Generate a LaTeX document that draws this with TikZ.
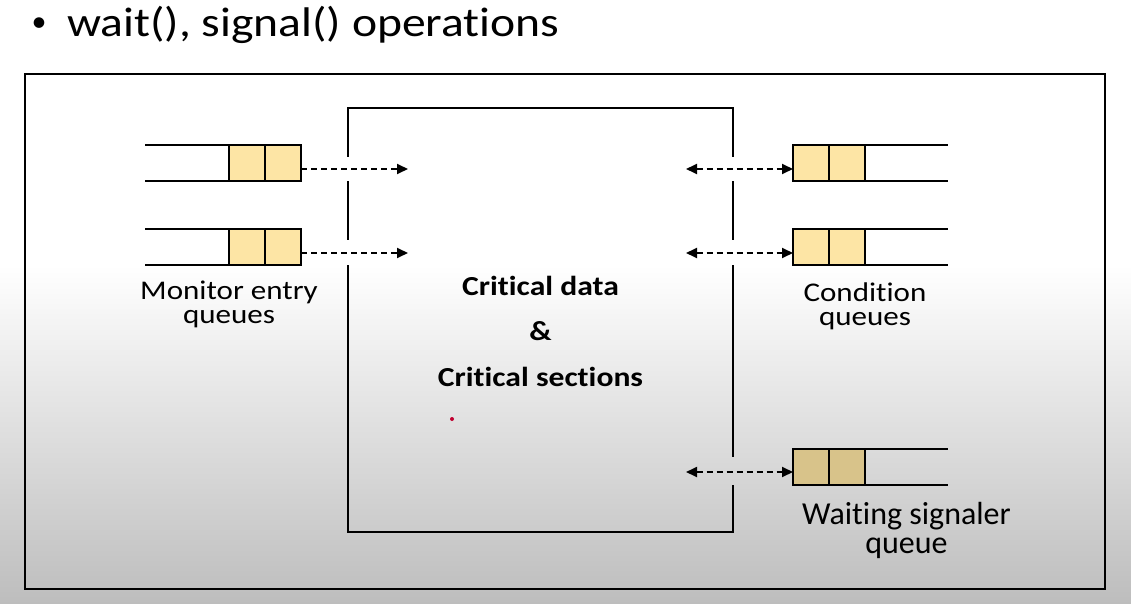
\documentclass[tikz,border=0pt]{standalone}
\usepackage{fontspec}
\setmainfont{Carlito}[FakeStretch=1.15, Ligatures={NoCommon}]
\newfontfamily\plainfont{Carlito}[Ligatures={NoCommon}]
\usetikzlibrary{arrows.meta}
\definecolor{cellyel}{HTML}{FDE5A5}
\definecolor{celltan}{HTML}{D8C38A}
\definecolor{bggray}{HTML}{BDBDBD}
\definecolor{dotred}{HTML}{C00030}
\begin{document}
\begin{tikzpicture}[x=1pt,y=-1pt,
  qline/.style={line width=2pt},
  boxline/.style={line width=2pt},
  cell/.style={draw, line width=2pt, minimum width=36pt, minimum height=36pt, inner sep=0pt, outer sep=0pt, fill=cellyel},
  darkcell/.style={cell, fill=celltan},
  flow/.style={line width=1.8pt, dash pattern=on 6pt off 4pt, -{Triangle[length=11pt,width=10pt]}},
  bflow/.style={line width=1.8pt, dash pattern=on 6pt off 4pt, {Triangle[length=11pt,width=10pt]}-{Triangle[length=11pt,width=10pt]}},
  lbl/.style={anchor=base, inner sep=0pt, align=center},
]
\useasboundingbox (0,0) rectangle (1131,604);
\fill[white] (0,0) rectangle (1131,265);
\shade[top color=white, bottom color=bggray] (0,265) rectangle (1131,604);

% title
\node[lbl] (bul) at (39,32) {\plainfont\fontsize{30}{36}\selectfont •};
\node[lbl, anchor=base west] (title) at (67,37) {\fontsize{41.4}{48}\selectfont wait(), signal() operations};

% outer box
\draw[boxline] (25,74) rectangle (1105,589);

% central box with gaps
\draw[boxline] (348,157) -- (348,108) -- (733,108) -- (733,157);
\draw[boxline] (348,181) -- (348,240);
\draw[boxline] (348,265) -- (348,532) -- (733,532) -- (733,485);
\draw[boxline] (733,181) -- (733,240);
\draw[boxline] (733,265) -- (733,457);

% left queues
\node[cell] (l1a) at (247,163) {};
\node[cell] (l1b) at (283,163) {};
\node[cell] (l2a) at (247,247) {};
\node[cell] (l2b) at (283,247) {};
\draw[qline] (l1a.north west) -- ++(-84,0);
\draw[qline] (l1a.south west) -- ++(-84,0);
\draw[qline] (l2a.north west) -- ++(-84,0);
\draw[qline] (l2a.south west) -- ++(-84,0);

% right queues
\node[cell] (r1a) at (811,163) {};
\node[cell] (r1b) at (847,163) {};
\node[cell] (r2a) at (811,247) {};
\node[cell] (r2b) at (847,247) {};
\node[darkcell] (r3a) at (811,467) {};
\node[darkcell] (r3b) at (847,467) {};
\draw[qline] (r1b.north east) -- ++(83,0);
\draw[qline] (r1b.south east) -- ++(83,0);
\draw[qline] (r2b.north east) -- ++(83,0);
\draw[qline] (r2b.south east) -- ++(83,0);
\draw[qline] (r3b.north east) -- ++(83,0);
\draw[qline] (r3b.south east) -- ++(83,0);

% arrow ends inside the monitor
\coordinate (in1) at (408,169);
\coordinate (in2) at (408,253);
\coordinate (out1) at (686,169);
\coordinate (out2) at (686,253);
\coordinate (out3) at (686,472);

\draw[flow] (l1b.east |- in1) -- (in1);
\draw[flow] (l2b.east |- in2) -- (in2);
\draw[bflow] (out1) -- (r1a.west |- out1);
\draw[bflow] (out2) -- (r2a.west |- out2);
\draw[bflow] (out3) -- (r3a.west |- out3);

% labels (anchor base = last line baseline)
\node[lbl, font=\fontsize{27}{23.6}\selectfont] (me) at (229,323) {Monitor entry\\queues};
\node[lbl, font=\fontsize{27}{24}\selectfont] (cq) at (865,325) {Condition\\queues};
\node[lbl, font=\plainfont\fontsize{32}{29}\selectfont] (ws) at (906.5,553.3) {Waiting signaler\\queue};
\node[lbl, font=\fontsize{27.5}{30}\selectfont\bfseries] (cd1) at (540.5,295) {Critical data};
\node[lbl, font=\fontsize{27.5}{30}\selectfont\bfseries] (cd2) at (540.5,340) {\&};
\node[lbl, font=\fontsize{27.5}{30}\selectfont\bfseries] (cd3) at (540.5,386) {Critical sections};

% stray dot
\fill[dotred] (452,419) circle (2);
\end{tikzpicture}
\end{document}
